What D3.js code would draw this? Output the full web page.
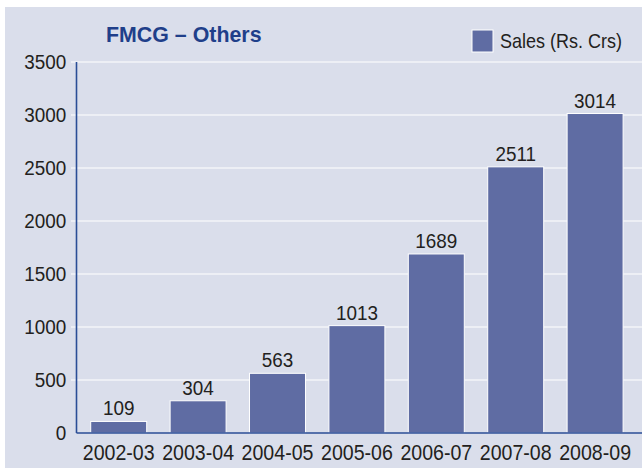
<!DOCTYPE html>
<html>
<head>
<meta charset="utf-8">
<script src="https://cdn.jsdelivr.net/npm/d3@7"></script>
<style>
  body { margin: 0; background: #fff; }
  svg { display: block; }
</style>
</head>
<body>
<div id="chart"></div>
<script>
// FMCG - Others sales chart
const years = ['2002-03', '2003-04', '2004-05', '2005-06', '2006-07', '2007-08', '2008-09'];
const sales = [109, 304, 563, 1013, 1689, 2511, 3014];
const yTicks = [0, 500, 1000, 1500, 2000, 2500, 3000, 3500];
const seriesName = 'Sales (Rs. Crs)';
const chartTitle = 'FMCG \u2013 Others';

const width = 642, height = 468;
const font = '"Liberation Sans", Arial, sans-serif';
const squeeze = 'scale(0.9,1)'; // reference uses a condensed face
const barColor = '#5f6ca3';
const axisColor = '#2a4d96';
const textColor = '#231f20';

const svg = d3.select('#chart').append('svg')
  .attr('width', width)
  .attr('height', height);

// Panel background
svg.append('rect')
  .attr('x', 5).attr('y', 7)
  .attr('width', width - 5).attr('height', height - 7)
  .attr('fill', '#dadeeb');

const x = d3.scaleBand()
  .domain(years)
  .range([79, 634.8])
  .paddingInner(0.295)
  .paddingOuter(0.1475);

const y = d3.scaleLinear()
  .domain([0, 3500])
  .range([433, 62]);

// Gridlines + left ticks
svg.append('g')
  .selectAll('line')
  .data(yTicks.filter(d => d > 0))
  .enter()
  .append('line')
  .attr('x1', 71).attr('x2', width)
  .attr('y1', d => y(d)).attr('y2', d => y(d))
  .attr('stroke', '#ffffff')
  .attr('stroke-width', 1.2);

// Y axis labels
const yAxis = svg.append('g')
  .attr('transform', 'translate(77,0)')
  .call(d3.axisLeft(y).tickValues(yTicks).tickFormat(d3.format('d')).tickSize(0).tickPadding(12));
yAxis.select('.domain').remove();
yAxis.selectAll('text')
  .attr('fill', textColor)
  .attr('font-family', font)
  .attr('font-size', '21px')
  .attr('transform', squeeze);

// Bars
const rows = years.map((d, i) => ({ label: d, value: sales[i] }));
svg.selectAll('.bar')
  .data(rows)
  .enter()
  .append('rect')
  .attr('class', 'bar')
  .attr('x', d => x(d.label))
  .attr('y', d => y(d.value))
  .attr('width', x.bandwidth())
  .attr('height', d => y(0) - y(d.value))
  .attr('fill', barColor)
  .attr('stroke', '#ffffff')
  .attr('stroke-width', 1);

// Value labels
svg.selectAll('.label')
  .data(rows)
  .enter()
  .append('g')
  .attr('transform', d => `translate(${x(d.label) + x.bandwidth() / 2},${y(d.value) - 6})`)
  .append('text')
  .attr('text-anchor', 'middle')
  .attr('fill', textColor)
  .attr('font-family', font)
  .attr('font-size', '21px')
  .attr('transform', squeeze)
  .text(d => d.value);

// X axis
const xAxis = svg.append('g')
  .attr('transform', 'translate(0,433)')
  .call(d3.axisBottom(x).tickSize(0).tickPadding(11));
xAxis.select('.domain').remove();
xAxis.selectAll('text')
  .attr('fill', textColor)
  .attr('font-family', font)
  .attr('font-size', '22px')
  .attr('transform', 'scale(0.89,1)');

// Axis lines
svg.append('line')
  .attr('x1', 76.5).attr('x2', width)
  .attr('y1', 433).attr('y2', 433)
  .attr('stroke', axisColor).attr('stroke-width', 1.6);
svg.append('line')
  .attr('x1', 76.5).attr('x2', 76.5)
  .attr('y1', 62).attr('y2', 433)
  .attr('stroke', axisColor).attr('stroke-width', 1.6);

// Title
svg.append('g')
  .attr('transform', 'translate(106,42)')
  .append('text')
  .attr('fill', '#1f3f8a')
  .attr('font-family', font)
  .attr('font-weight', 'bold')
  .attr('font-size', '23px')
  .attr('transform', 'scale(0.93,1)')
  .text(chartTitle);

// Legend
svg.append('rect')
  .attr('x', 472).attr('y', 30)
  .attr('width', 21).attr('height', 22)
  .attr('fill', barColor)
  .attr('stroke', '#ffffff').attr('stroke-width', 1);
svg.append('g')
  .attr('transform', 'translate(500,48)')
  .append('text')
  .attr('fill', textColor)
  .attr('font-family', font)
  .attr('font-size', '20px')
  .attr('transform', squeeze)
  .text(seriesName);
</script>
</body>
</html>
